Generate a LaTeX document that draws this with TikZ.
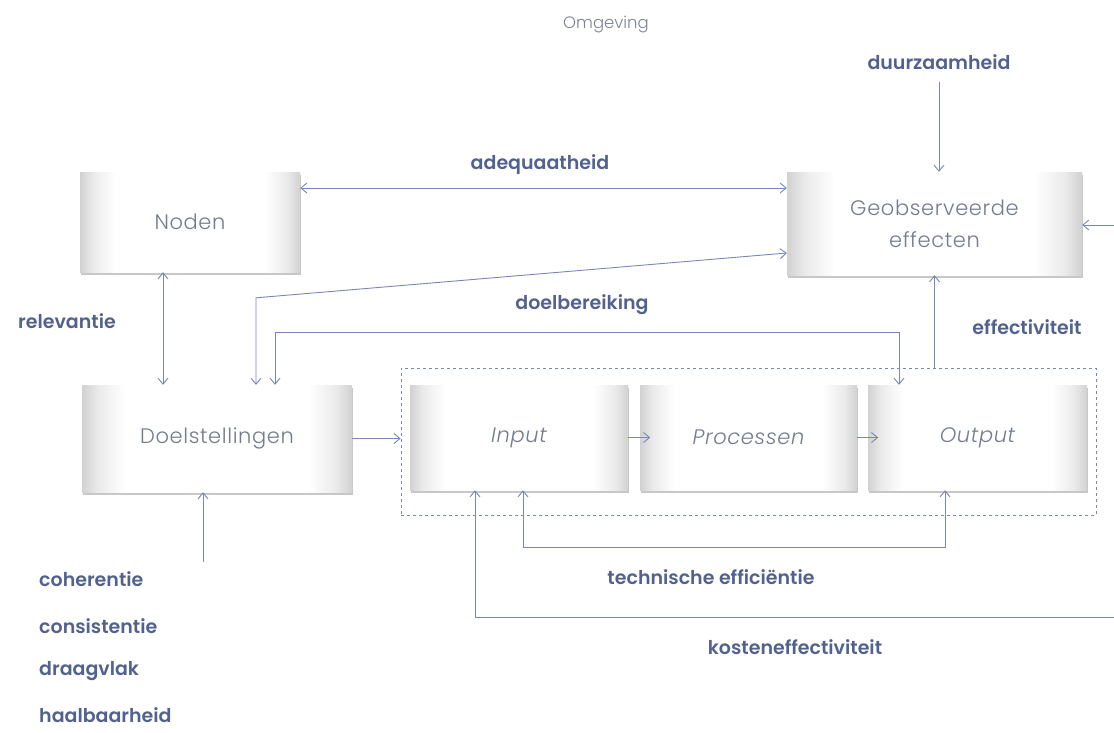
\documentclass[tikz,border=0pt]{standalone}
\usepackage{fontspec}
\setmainfont{Poppins}[BoldFont={Poppins SemiBold}]
\newfontfamily\lightfont{Poppins Light}
\usetikzlibrary{arrows.meta,shadows}
\definecolor{linec}{HTML}{7886B8}
\definecolor{labc}{HTML}{52628F}
\definecolor{boxt}{HTML}{737C8E}
\definecolor{envc}{HTML}{7A8398}
\pgfdeclarehorizontalshading{boxshade}{100bp}{color(0bp)=(black!18); color(25bp)=(black!18); color(28bp)=(black!8); color(33bp)=(white); color(67bp)=(white); color(72bp)=(black!8); color(75bp)=(black!18); color(100bp)=(black!18)}
\tikzset{
  box/.style={rectangle, inner sep=0pt, shading=boxshade, text=boxt,
    font=\lightfont\fontsize{21}{32}\selectfont\addfontfeatures{LetterSpace=3}, align=center,
    drop shadow={shadow xshift=1pt, shadow yshift=-2.5pt, opacity=0.22, fill=black}},
  lab/.style={text=labc, font=\fontsize{19}{22}\selectfont\bfseries, inner sep=1pt},
  conn/.style={draw=linec, line width=0.9pt},
  >={Straight Barb[length=6pt,width=10pt]}
}
\begin{document}
\begin{tikzpicture}[x=1pt,y=-1pt]
\useasboundingbox (0,0) rectangle (1114,732);
% boxes
\node[box, minimum width=220pt, minimum height=100pt] (noden) at (190,222) {Noden};
\node[box, minimum width=295pt, minimum height=103pt] (geo) at (934.5,223.5) {Geobserveerde\\effecten};
\node[box, minimum width=270pt, minimum height=107pt] (doel) at (217,438.5) {Doelstellingen};
\node[draw=linec, dashed, line width=0.7pt, minimum width=695pt, minimum height=147pt, inner sep=0pt] (grp) at (748.5,441.5) {};
\node[box, minimum width=218pt, minimum height=105pt] (input) at (519,437.5) {\itshape Input};
\node[box, minimum width=217pt, minimum height=105pt] (proc) at (748.5,437.5) {\itshape Processen};
\node[box, minimum width=219pt, minimum height=105pt] (output) at (977.5,437.5) {\itshape Output};
% labels
\node[text=envc, font=\lightfont\fontsize{16.5}{20}\selectfont] (omg) at (606,25) {Omgeving};
\node[lab] (dur) at (939,62) {duurzaamheid};
\node[lab] (adq) at (540,165) {adequaatheid};
\node[lab] (dbr) at (582,305) {doelbereiking};
\node[lab] (rel) at (67,321) {relevantie};
\node[lab] (eff) at (1027,327) {effectiviteit};
\node[lab] (tech) at (711,577) {technische efficiëntie};
\node[lab] (kost) at (795,647) {kosteneffectiviteit};
\node[lab, anchor=west] (coh) at (38,579) {coherentie};
\node[lab, anchor=west] (con) at (38,626) {consistentie};
\node[lab, anchor=west] (dra) at (38,671) {draagvlak};
\node[lab, anchor=west] (haa) at (38,715) {haalbaarheid};
% coordinates
\coordinate (a1) at ([yshift=34pt]noden.east);
\coordinate (d1) at ([xshift=39pt]doel.north);
\coordinate (d2) at ([xshift=58pt]doel.north);
\coordinate (g1) at ([yshift=-29.5pt]geo.west);
\coordinate (o1) at ([xshift=-78.5pt]output.north);
\coordinate (r1) at ([xshift=-27pt]noden.south);
\coordinate (t1) at ([xshift=4pt]input.south);
\coordinate (t2) at ([xshift=-32.5pt]output.south);
\coordinate (k1) at ([xshift=-44pt]input.south);
\coordinate (k0) at (1114,617);
\coordinate (rg) at (1114,225);
\coordinate (b0) at (203,562);
\coordinate (du) at (939,82);
% connectors
\draw[conn,->] (du) -- (du |- geo.north);
\draw[conn,->] (rg) -- (rg -| geo.east);
\draw[conn,<->] (a1) -- (a1 -| geo.west);
\draw[conn,<->] (d1) -- ++(0,-87) -- (g1);
\draw[conn,<->] (d2) -- ++(0,-52) -| (o1);
\draw[conn,->] (grp.north -| geo.south) -- (geo.south);
\draw[conn,<->] (r1) -- (r1 |- doel.north);
\draw[conn,->] (doel.east) -- (doel.east -| grp.west);
\draw[conn,->] (input.east) -- ++(22,0);
\draw[conn,->] (proc.east) -- ++(21,0);
\draw[conn,<->] (t1) -- ++(0,57) -| (t2);
\draw[conn,->] (k0) -| (k1);
\draw[conn,->] (b0) -- (b0 |- doel.south);
\end{tikzpicture}
\end{document}
